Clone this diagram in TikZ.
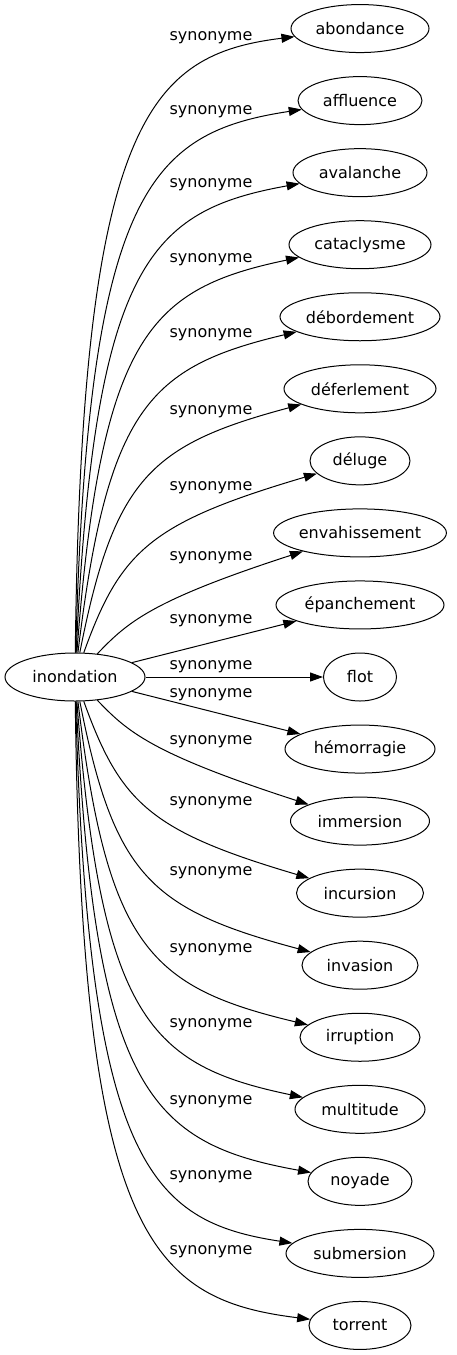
\documentclass[tikz,border=0pt]{standalone}
\usepackage{fontspec}
\setmainfont{DejaVu Sans}
\usetikzlibrary{arrows.meta,shapes.geometric}

\tikzset{
  mot/.style={ellipse, draw, line width=1pt, minimum height=48pt, inner sep=0pt,
              font=\fontsize{16}{19}\selectfont},
  lien/.style={line width=1pt, -{Triangle[length=13pt,width=9pt]}},
  etiq/.style={inner sep=0pt, font=\fontsize{16}{19}\selectfont}
}

\begin{document}
\begin{tikzpicture}[x=1pt,y=-1pt]
\useasboundingbox (0,0) rectangle (456,1355);

% the source word
\node[mot, minimum width=140pt] (inondation) at (75,677) {inondation};

% its synonyms, one per row
\foreach \i/\nom/\mot/\w in {0/abondance/abondance/138, 1/affluence/affluence/124,
    2/avalanche/avalanche/134, 3/cataclysme/cataclysme/142, 4/debordement/débordement/160,
    5/deferlement/déferlement/152, 6/deluge/déluge/100, 7/envahissement/envahissement/170,
    8/epanchement/épanchement/168, 9/flot/flot/73, 10/hemorragie/hémorragie/150,
    11/immersion/immersion/139, 12/incursion/incursion/127, 13/invasion/invasion/116,
    14/irruption/irruption/120, 15/multitude/multitude/130, 16/noyade/noyade/104,
    17/submersion/submersion/148, 18/torrent/torrent/102}
  \node[mot, minimum width=\w pt] (\nom) at (360,{677+72.05*(\i-9)}) {\mot};

% edge labels
\foreach \ly [count=\i] in {38,112,185,260,335,412,488,558,621,667,
    695,742,803,873,950,1025,1102,1177,1252}
  \node[etiq] (syn\i) at (211,\ly) {synonyme};

% straight edges to the nearest rows
\draw[lien] (inondation) -- (flot);
\draw[lien] (inondation) -- (epanchement);
\draw[lien] (inondation) -- (hemorragie);

% the others leave from the top or the bottom
\foreach \k/\haut/\bas in {2/envahissement/immersion, 3/deluge/incursion,
    4/deferlement/invasion, 5/debordement/irruption, 6/cataclysme/multitude,
    7/avalanche/noyade, 8/affluence/submersion, 9/abondance/torrent} {
  \pgfmathsetmacro\ax{140-6.5*\k}
  \pgfmathsetmacro\bd{80-6*\k}
  \pgfmathsetmacro\dy{72.05*\k}
  \draw[lien] (inondation) .. controls (\ax,677-\dy+90) and (150,677-\dy+\bd) .. (\haut);
  \draw[lien] (inondation) .. controls (\ax,677+\dy-90) and (150,677+\dy-\bd) .. (\bas);
}

\end{tikzpicture}
\end{document}
